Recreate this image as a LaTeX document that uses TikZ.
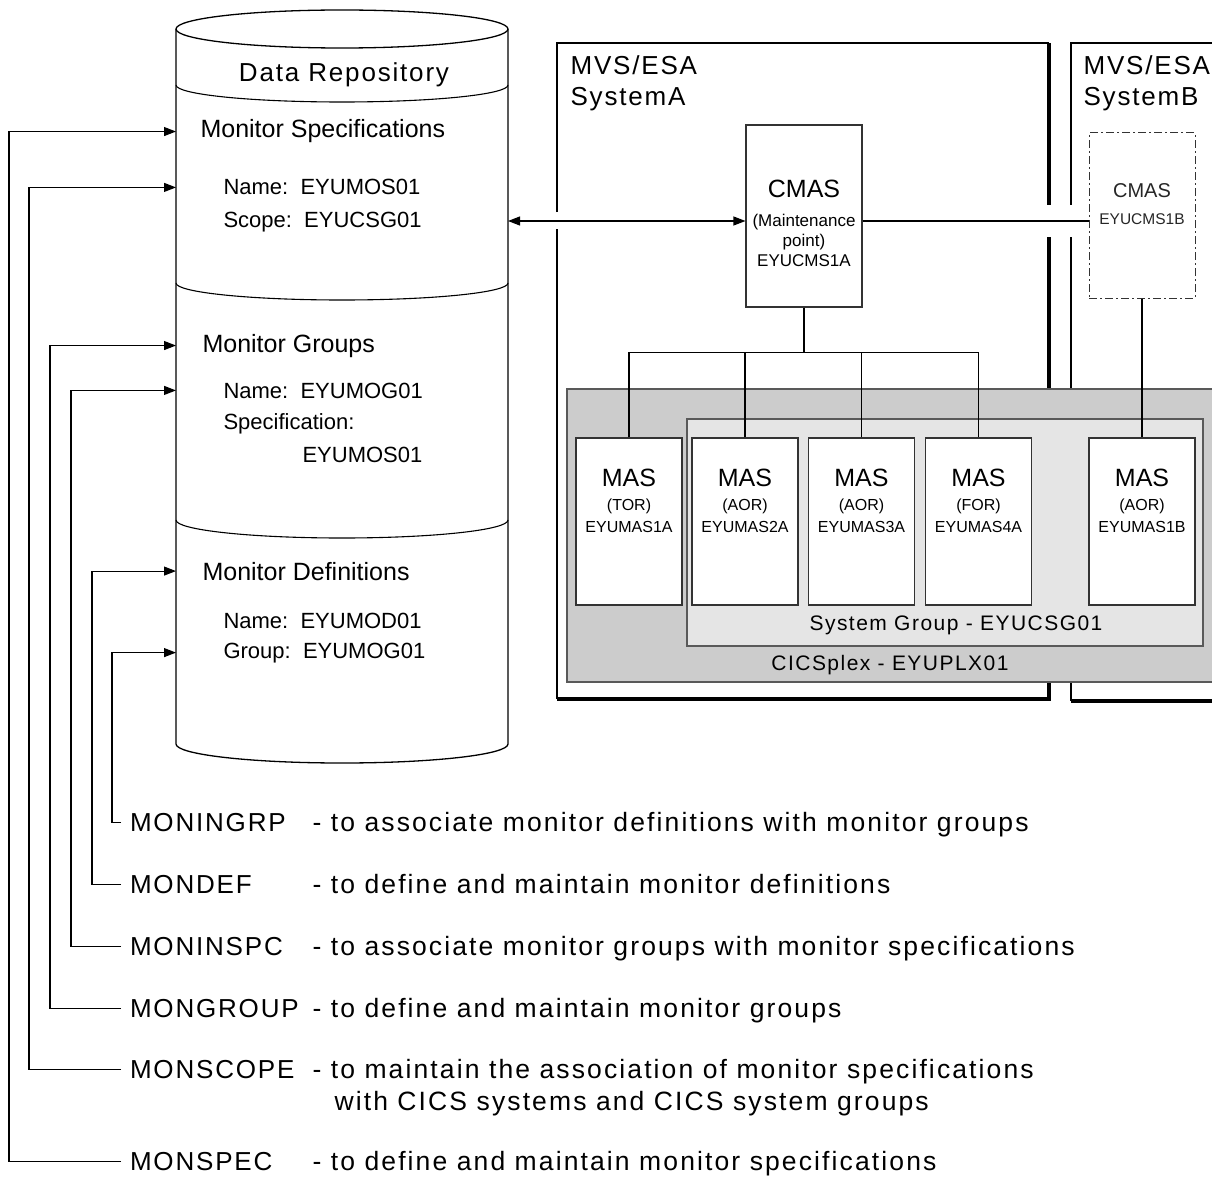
\documentclass[tikz,border=0pt]{standalone}
\usepackage{fontspec}
\setmainfont{Liberation Sans}
\newfontfamily\trackfont[LetterSpace=7]{Liberation Sans}
\newfontfamily\descfont[LetterSpace=8]{Liberation Sans}
\usetikzlibrary{arrows.meta,positioning}
\newcommand\boxhead{\fontsize{25}{30}\selectfont}
\tikzset{every node/.style={inner sep=0pt}}
\tikzset{sect/.style={anchor=base west,font=\fontsize{25}{30}\selectfont}}
\tikzset{entry/.style={anchor=base west,font=\fontsize{22}{28}\selectfont}}
\tikzset{cmd/.style={anchor=base west,outer xsep=9pt,font=\trackfont\fontsize{26}{32}\selectfont}}
\tikzset{desc/.style={anchor=base west,font=\descfont\fontsize{26.5}{32}\selectfont}}
\tikzset{sysname/.style={anchor=north west,font=\trackfont\fontsize{26}{32}\selectfont}}
\tikzset{grptxt/.style={anchor=base,font=\trackfont\fontsize{21}{26}\selectfont}}
\tikzset{masbox/.style={draw=black!80,fill=white,minimum width=106pt,minimum height=167pt}}
\tikzset{mastxt/.style={align=center,font=\fontsize{16}{22}\selectfont}}

\begin{document}
\begin{tikzpicture}[x=1pt,y=-1pt,line width=1.1pt,>={Triangle[length=12pt,width=9pt]}]
\useasboundingbox (0,0) rectangle (1212,1177);

% data repository
\node[minimum width=332pt,minimum height=715pt,outer sep=0pt] (repo) at (342,386.5) {};
\draw[line width=1.3pt] (342,29) ellipse [x radius=166,y radius=19];
\draw[line width=1.3pt] (repo.north west) -- (repo.south west)
  arc[start angle=180,end angle=0,x radius=166,y radius=19] -- (repo.north east);
\draw (176,85) arc[start angle=180,end angle=0,x radius=166,y radius=17];
\draw (176,283) arc[start angle=180,end angle=0,x radius=166,y radius=17];
\draw (176,520) arc[start angle=180,end angle=0,x radius=166,y radius=18];
\node[anchor=base,font=\trackfont\fontsize{26}{32}\selectfont] (title) at (344,82) {Data Repository};

\node[sect] (tspec) at (200,138) {Monitor Specifications};
\node[entry] (nspec) at (223,195) {Name:\ \ EYUMOS01};
\node[entry] (sspec) at (223,227) {Scope:\ \ EYUCSG01};
\node[sect] (tgroup) at (202,352) {Monitor Groups};
\node[entry] (ngroup) at (223,398) {Name:\ \ EYUMOG01};
\node[entry] (pgroup) at (223,429) {Specification:};
\node[entry] (pgroup2) at (302,462) {EYUMOS01};
\node[sect] (tdef) at (202,580) {Monitor Definitions};
\node[entry] (ndef) at (223,628) {Name:\ \ EYUMOD01};
\node[entry] (gdef) at (223,658) {Group:\ \ EYUMOG01};

% transactions
\node[cmd] (lingrp) at (121,831) {MONINGRP};
\node[desc] (dingrp) at (312,831) {- to associate monitor definitions with monitor groups};
\node[cmd] (ldef) at (121,893) {MONDEF};
\node[desc] (ddef) at (312,893) {- to define and maintain monitor definitions};
\node[cmd] (linspc) at (121,955) {MONINSPC};
\node[desc] (dinspc) at (312,955) {- to associate monitor groups with monitor specifications};
\node[cmd] (lgroup) at (121,1017) {MONGROUP};
\node[desc] (dgroup) at (312,1017) {- to define and maintain monitor groups};
\node[cmd] (lscope) at (121,1078) {MONSCOPE};
\node[desc] (dscope) at (312,1078) {- to maintain the association of monitor specifications};
\node[desc] (dscope2) at (334,1110) {with CICS systems and CICS system groups};
\node[cmd] (lspec) at (121,1170) {MONSPEC};
\node[desc] (dspec) at (312,1170) {- to define and maintain monitor specifications};

\draw[->] (lspec.west) -- ++(-112,0) |- (repo.west |- tspec);
\draw[->] (lscope.west) -- ++(-92,0) |- (repo.west |- nspec);
\draw[->] (lgroup.west) -- ++(-71,0) |- (repo.west |- tgroup);
\draw[->] (linspc.west) -- ++(-50,0) |- (repo.west |- ngroup);
\draw[->] (ldef.west) -- ++(-29,0) |- (repo.west |- tdef);
\draw[->] (lingrp.west) -- ++(-9,0) |- (repo.west |- gdef);

% MVS/ESA systems
\draw (557,212) |- (1049,43);
\draw (557,229) -- (557,699);
\draw[line width=4.5pt] (1049,43) -- (1049,205);
\draw[line width=4.5pt] (1049,237) |- (557,699);
\draw (1071,205) |- (1214,43);
\draw (1071,237) -- (1071,701);
\draw[line width=4.5pt] (1071,701) -- (1214,701);
\node[sysname] (sysa) at (570,55) {MVS/ESA};
\node[sysname] (sysa2) at (570,87) {SystemA};
\node[sysname] (sysb) at (1083,55) {MVS/ESA};
\node[sysname] (sysb2) at (1083,87) {SystemB};

% CICSplex
\node[draw=black!65,fill=black!20,minimum width=650pt,minimum height=293pt] (plex) at (892,535.5) {};
\node[draw=black!65,fill=black!10,minimum width=516pt,minimum height=227pt] (sysgrp) at (945,532.5) {};
\node[grptxt] (sysgrp-t) at (956,630) {System Group - EYUCSG01};
\node[grptxt] (plex-t) at (890,670) {CICSplex - EYUPLX01};

\node[masbox] (mas1a) at (629,521.5) {};
\node[masbox] (mas2a) at (745,521.5) {};
\node[masbox] (mas3a) at (861.5,521.5) {};
\node[masbox] (mas4a) at (978.5,521.5) {};
\node[masbox] (mas1b) at (1142,521.5) {};
\node[mastxt,below=31pt of mas1a.north] (mas1a-t) {{\boxhead MAS}\\[2pt](TOR)\\EYUMAS1A};
\node[mastxt,below=31pt of mas2a.north] (mas2a-t) {{\boxhead MAS}\\[2pt](AOR)\\EYUMAS2A};
\node[mastxt,below=31pt of mas3a.north] (mas3a-t) {{\boxhead MAS}\\[2pt](AOR)\\EYUMAS3A};
\node[mastxt,below=31pt of mas4a.north] (mas4a-t) {{\boxhead MAS}\\[2pt](FOR)\\EYUMAS4A};
\node[mastxt,below=31pt of mas1b.north] (mas1b-t) {{\boxhead MAS}\\[2pt](AOR)\\EYUMAS1B};

% CMASs
\node[draw=black!80,minimum width=116pt,minimum height=182pt] (cmasa) at (804,216) {};
\node[mastxt,font=\fontsize{17}{20}\selectfont,below=55pt of cmasa.north] (cmasa-t)
  {{\boxhead CMAS}\\[9pt](Maintenance\\point)\\EYUCMS1A};
\node[draw=black!80,line width=1pt,dash pattern=on 8pt off 3pt on 2pt off 3pt,
  minimum width=106pt,minimum height=165pt] (cmasb) at (1142,215.5) {};
\node[align=center,text=black!85,font=\fontsize{15.5}{19}\selectfont,below=50pt of cmasb.north] (cmasb-t)
  {{\fontsize{20}{24}\selectfont CMAS}\\[8pt]EYUCMS1B};

\coordinate (link) at ([yshift=-5pt]cmasa.west);
\draw[<->] (repo.east |- link) -- (link);
\draw ([yshift=-5pt]cmasa.east) -- (cmasb.west |- link);
\draw (cmasa.south) -- ++(0,45) coordinate (tee);
\draw (mas1a.north) |- (tee) -| (mas4a.north);
\draw (mas2a.north) -- (mas2a.north |- tee);
\draw (mas3a.north) -- (mas3a.north |- tee);
\draw (cmasb.south) -- (mas1b.north);
\end{tikzpicture}
\end{document}
